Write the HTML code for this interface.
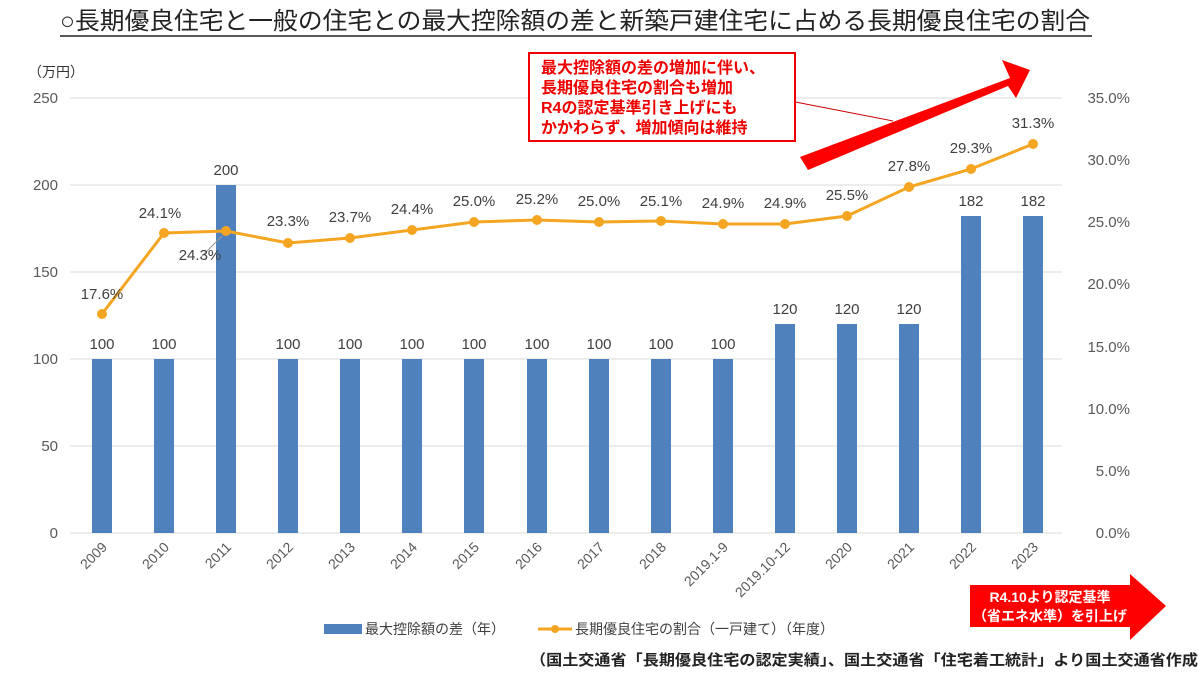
<!DOCTYPE html>
<html><head><meta charset="utf-8"><style>
body{margin:0;background:#fff;}
svg text{font-family:"Liberation Sans","Noto Sans CJK JP",sans-serif;}
</style></head><body>
<svg width="1200" height="674" xmlns="http://www.w3.org/2000/svg">
<text x="60" y="29" font-size="24" fill="#222" textLength="1030" lengthAdjust="spacingAndGlyphs">○長期優良住宅と一般の住宅との最大控除額の差と新築戸建住宅に占める長期優良住宅の割合</text>
<line x1="60" y1="36" x2="1092" y2="36" stroke="#222" stroke-width="1.5"/>
<text x="28" y="77" font-size="14" fill="#333">（万円）</text>
<g stroke="#d9d9d9" stroke-width="1">
<line x1="70" y1="98" x2="1062" y2="98"/><line x1="70" y1="185" x2="1062" y2="185"/>
<line x1="70" y1="272" x2="1062" y2="272"/><line x1="70" y1="359" x2="1062" y2="359"/>
<line x1="70" y1="446" x2="1062" y2="446"/><line x1="70" y1="533" x2="1062" y2="533"/>
</g>
<g font-size="15" fill="#595959" text-anchor="end">
<text x="58" y="103">250</text><text x="58" y="190">200</text><text x="58" y="277">150</text>
<text x="58" y="364">100</text><text x="58" y="451">50</text><text x="58" y="538">0</text>
</g>
<g font-size="15" fill="#595959" text-anchor="end">
<text x="1130" y="103">35.0%</text><text x="1130" y="165">30.0%</text><text x="1130" y="227">25.0%</text>
<text x="1130" y="289">20.0%</text><text x="1130" y="352">15.0%</text><text x="1130" y="414">10.0%</text>
<text x="1130" y="476">5.0%</text><text x="1130" y="538">0.0%</text>
</g>
<g fill="#4f81bd">
<rect x="92" y="359" width="20" height="174"/><rect x="154" y="359" width="20" height="174"/>
<rect x="216" y="185" width="20" height="348"/><rect x="278" y="359" width="20" height="174"/>
<rect x="340" y="359" width="20" height="174"/><rect x="402" y="359" width="20" height="174"/>
<rect x="464" y="359" width="20" height="174"/><rect x="527" y="359" width="20" height="174"/>
<rect x="589" y="359" width="20" height="174"/><rect x="651" y="359" width="20" height="174"/>
<rect x="713" y="359" width="20" height="174"/><rect x="775" y="324" width="20" height="209"/>
<rect x="837" y="324" width="20" height="209"/><rect x="899" y="324" width="20" height="209"/>
<rect x="961" y="216" width="20" height="317"/><rect x="1023" y="216" width="20" height="317"/>
</g>
<g font-size="15" fill="#404040" text-anchor="middle">
<text x="102" y="349">100</text><text x="164" y="349">100</text><text x="226" y="175">200</text>
<text x="288" y="349">100</text><text x="350" y="349">100</text><text x="412" y="349">100</text>
<text x="474" y="349">100</text><text x="537" y="349">100</text><text x="599" y="349">100</text>
<text x="661" y="349">100</text><text x="723" y="349">100</text><text x="785" y="314">120</text>
<text x="847" y="314">120</text><text x="909" y="314">120</text><text x="971" y="206">182</text>
<text x="1033" y="206">182</text>
</g>
<polyline fill="none" stroke="#f4a522" stroke-width="3" points="102,314 164,233 226,231 288,243 350,238 412,230 474,222 537,220 599,222 661,221 723,224 785,224 847,216 909,187 971,169 1033,144"/>
<g fill="#f4a522">
<circle cx="102" cy="314" r="5"/><circle cx="164" cy="233" r="5"/><circle cx="226" cy="231" r="5"/>
<circle cx="288" cy="243" r="5"/><circle cx="350" cy="238" r="5"/><circle cx="412" cy="230" r="5"/>
<circle cx="474" cy="222" r="5"/><circle cx="537" cy="220" r="5"/><circle cx="599" cy="222" r="5"/>
<circle cx="661" cy="221" r="5"/><circle cx="723" cy="224" r="5"/><circle cx="785" cy="224" r="5"/>
<circle cx="847" cy="216" r="5"/><circle cx="909" cy="187" r="5"/><circle cx="971" cy="169" r="5"/>
<circle cx="1033" cy="144" r="5"/>
</g>
<line x1="200" y1="258" x2="222" y2="236" stroke="#999" stroke-width="1"/>
<g font-size="15" fill="#404040" text-anchor="middle">
<text x="102" y="299">17.6%</text><text x="160" y="218">24.1%</text><text x="200" y="260">24.3%</text>
<text x="288" y="226">23.3%</text><text x="350" y="222">23.7%</text><text x="412" y="214">24.4%</text>
<text x="474" y="206">25.0%</text><text x="537" y="204">25.2%</text><text x="599" y="206">25.0%</text>
<text x="661" y="206">25.1%</text><text x="723" y="208">24.9%</text><text x="785" y="208">24.9%</text>
<text x="847" y="200">25.5%</text><text x="909" y="171">27.8%</text><text x="971" y="153">29.3%</text>
<text x="1033" y="128">31.3%</text>
</g>
<g font-size="14" fill="#595959" text-anchor="end">
<text transform="translate(108,548) rotate(-45)">2009</text><text transform="translate(170,548) rotate(-45)">2010</text>
<text transform="translate(232,548) rotate(-45)">2011</text><text transform="translate(294,548) rotate(-45)">2012</text>
<text transform="translate(356,548) rotate(-45)">2013</text><text transform="translate(418,548) rotate(-45)">2014</text>
<text transform="translate(480,548) rotate(-45)">2015</text><text transform="translate(543,548) rotate(-45)">2016</text>
<text transform="translate(605,548) rotate(-45)">2017</text><text transform="translate(667,548) rotate(-45)">2018</text>
<text transform="translate(729,548) rotate(-45)">2019.1-9</text><text transform="translate(791,548) rotate(-45)">2019.10-12</text>
<text transform="translate(853,548) rotate(-45)">2020</text><text transform="translate(915,548) rotate(-45)">2021</text>
<text transform="translate(977,548) rotate(-45)">2022</text><text transform="translate(1039,548) rotate(-45)">2023</text>
</g>
<rect x="324" y="624" width="38" height="10" fill="#4f81bd"/>
<text x="365" y="634" font-size="14" fill="#404040">最大控除額の差（年）</text>
<line x1="538" y1="629" x2="572" y2="629" stroke="#f4a522" stroke-width="3"/>
<circle cx="555" cy="629" r="4" fill="#f4a522"/>
<text x="575" y="634" font-size="14" fill="#404040">長期優良住宅の割合（一戸建て）（年度）</text>
<text x="530" y="665" font-size="15" font-weight="bold" fill="#222" textLength="668" lengthAdjust="spacingAndGlyphs">（国土交通省「長期優良住宅の認定実績」、国土交通省「住宅着工統計」より国土交通省作成</text>
<line x1="785" y1="100" x2="893" y2="121" stroke="#c00" stroke-width="1"/>
<polygon points="800,157 1010,78 1002,60 1030,70 1016,98 1008,86 808,170" fill="#f00"/>
<rect x="529" y="53" width="266" height="88" fill="#fff" stroke="#e00" stroke-width="2"/>
<g font-size="16" font-weight="bold" fill="#e00">
<text x="541" y="73">最大控除額の差の増加に伴い、</text><text x="541" y="93">長期優良住宅の割合も増加</text>
<text x="541" y="113">R4の認定基準引き上げにも</text><text x="541" y="133">かかわらず、増加傾向は維持</text>
</g>
<polygon points="970,585 1130,585 1130,574 1166,606 1130,640 1130,627 970,627" fill="#f00"/>
<g font-size="14" font-weight="bold" fill="#fff" text-anchor="middle">
<text x="1050" y="602">R4.10より認定基準</text><text x="1050" y="621">（省エネ水準）を引上げ</text>
</g>
</svg>
</body></html>
